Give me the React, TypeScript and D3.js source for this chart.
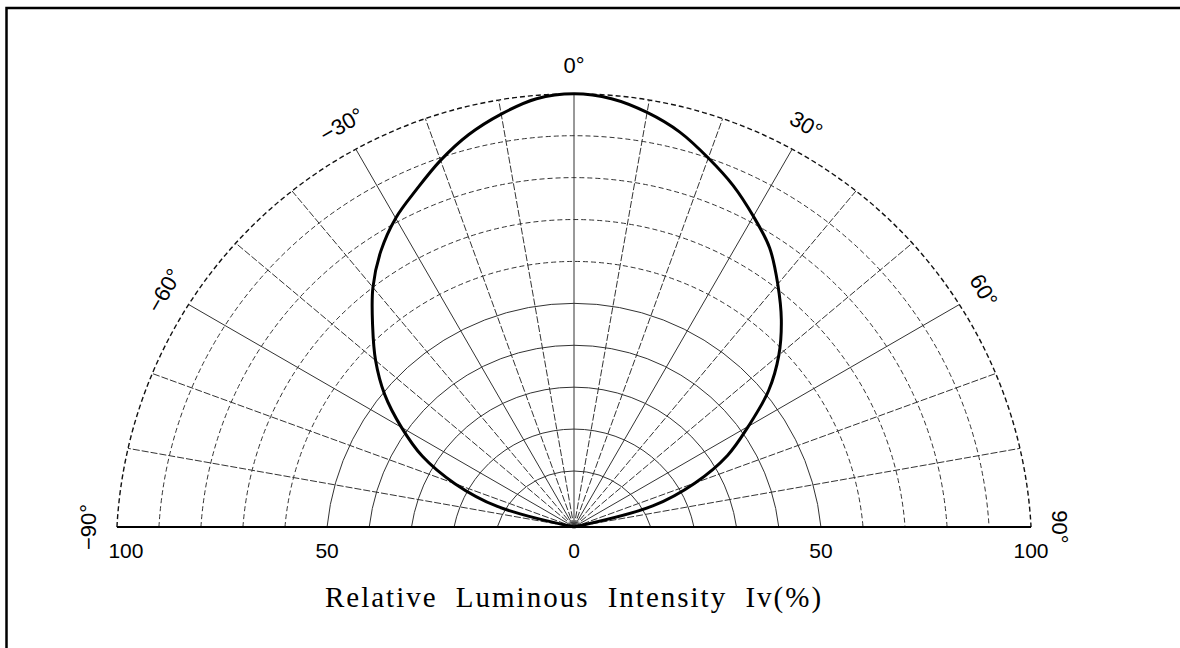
import React, { useEffect, useRef } from 'react';
import * as d3 from 'd3';

// measured angles (deg, 0 = straight up) and relative intensity (%)
const angles = [-80, -75, -70, -65, -60, -55, -50, -45, -40, -35, -30, -25, -20, -15, -10, -5, 0,
    5, 10, 15, 20, 25, 30, 35, 40, 45, 50, 55, 60, 65, 70, 75, 80];
const intensity = [0, 12, 23.5, 33.5, 41.5, 49.5, 56.5, 63, 70, 76, 81, 85, 89.4, 93.4, 96.6, 99.2, 100,
    99.2, 97, 94, 90, 86, 81.5, 77, 71, 65, 58.5, 51, 42, 34, 24, 12.5, 0];

const ringValues = [10, 20, 30, 40, 50, 60, 70, 80, 90, 100];
const spokeAngles = [-80, -70, -60, -50, -40, -30, -20, -10, 0, 10, 20, 30, 40, 50, 60, 70, 80];
const angleLabels = [-90, -60, -30, 0, 30, 60, 90];
const axisTicks = [-100, -50, 0, 50, 100];
const axisTitle = 'Relative Luminous Intensity Iv(%)';

const App = () => {
    const ref = useRef(null);

    useEffect(() => {
        const width = 1180, height = 648;
        const cx = 574, cy = 527;
        // rings are circles whose centre sits a little below the origin
        const D = 24.5;

        const svg = d3.select(ref.current);
        svg.selectAll("*").remove();
        svg.attr("width", width).attr("height", height);

        const rScale = d3.scaleLinear().domain([0, 10, 100]).range([D, 80.5, 457.7]);

        const dist = (deg, v) => {
            const th = deg * Math.PI / 180;
            const R = rScale(v);
            const c = Math.cos(th);
            return -D * c + Math.sqrt(D * D * c * c - D * D + R * R);
        };
        const project = (deg, v) => {
            const th = deg * Math.PI / 180;
            const t = dist(deg, v);
            return [cx + t * Math.sin(th), cy - t * Math.cos(th)];
        };
        const baseX = v => Math.sqrt(rScale(v) ** 2 - D * D);

        // frame (top and left edges only)
        svg.append("path")
            .attr("d", `M6.5,${height} V8 H${width}`)
            .attr("fill", "none")
            .attr("stroke", "#000")
            .attr("stroke-width", 2.5);

        const grid = svg.append("g");

        // rings
        ringValues.forEach(v => {
            const R = rScale(v);
            const hx = baseX(v);
            grid.append("path")
                .attr("d", `M${cx - hx},${cy} A${R},${R} 0 0 1 ${cx + hx},${cy}`)
                .attr("fill", "none")
                .attr("stroke", v === 100 ? "#111" : "#333")
                .attr("stroke-width", v === 100 ? 1.4 : 1)
                .attr("stroke-dasharray", v >= 60 ? "5,3" : null);
        });

        // spokes
        spokeAngles.forEach(a => {
            const [x, y] = project(a, 100);
            grid.append("line")
                .attr("x1", cx).attr("y1", cy)
                .attr("x2", x).attr("y2", y)
                .attr("stroke", "#333")
                .attr("stroke-width", 1)
                .attr("stroke-dasharray", a % 30 === 0 ? null : "7,2");
        });

        // baseline
        svg.append("line")
            .attr("x1", cx - baseX(100)).attr("y1", cy)
            .attr("x2", cx + baseX(100)).attr("y2", cy)
            .attr("stroke", "#000")
            .attr("stroke-width", 2);

        // angle labels
        angleLabels.forEach(a => {
            const th = a * Math.PI / 180;
            const t = dist(a, 100) + 28;
            const x = cx + t * Math.sin(th), y = cy - t * Math.cos(th);
            svg.append("text")
                .attr("transform", `translate(${x},${y}) rotate(${a})`)
                .attr("text-anchor", "middle")
                .attr("dominant-baseline", "central")
                .style("font-family", "'Liberation Sans', Arial, sans-serif")
                .style("font-size", "22px")
                .text(`${a < 0 ? '\u2212' : ''}${Math.abs(a)}°`);
        });

        // axis tick labels
        axisTicks.forEach(v => {
            const x = cx + Math.sign(v) * baseX(Math.abs(v)) + (v === -100 ? 9 : 0);
            svg.append("text")
                .attr("x", x)
                .attr("y", 558)
                .attr("text-anchor", "middle")
                .style("font-family", "'Liberation Sans', Arial, sans-serif")
                .style("font-size", "21px")
                .text(Math.abs(v));
        });

        svg.append("text")
            .attr("x", cx)
            .attr("y", 607)
            .attr("text-anchor", "middle")
            .style("font-family", "'Liberation Serif', 'Times New Roman', serif")
            .style("font-size", "29px")
            .style("letter-spacing", "2px")
            .style("word-spacing", "9px")
            .text(axisTitle);

        // intensity curve
        const line = d3.line().curve(d3.curveCatmullRom.alpha(0.5));
        const pts = angles.map((a, i) => project(a, intensity[i]));
        svg.append("path")
            .attr("d", line(pts))
            .attr("fill", "none")
            .attr("stroke", "#000")
            .attr("stroke-width", 3)
            .attr("stroke-linejoin", "round");
    }, []);

    return <svg ref={ref} style={{ position: 'absolute', left: 0, top: 0, background: '#fff' }} />;
};

export default App;
